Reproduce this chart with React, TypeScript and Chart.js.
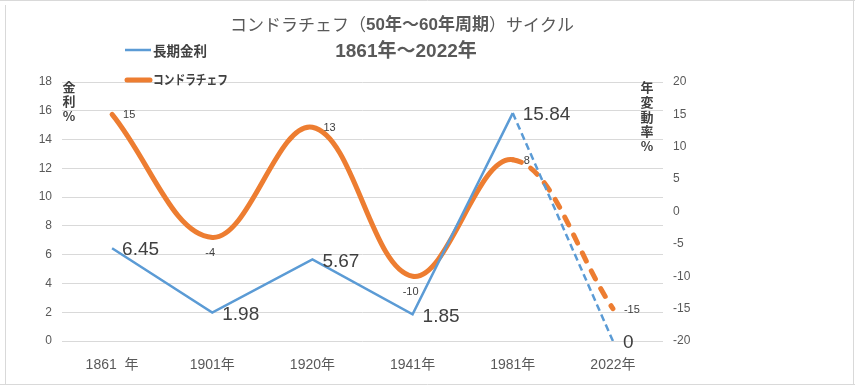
import React, { useEffect, useRef } from 'react';
import { Chart, registerables } from 'chart.js';

Chart.register(...registerables);

// ---- data ----
const categories = ['1861  年', '1901年', '1920年', '1941年', '1981年', '2022年'];
const rateValues = [6.45, 1.98, 5.67, 1.85, 15.84, 0];
const kondratievValues = [15, -4, 13, -10, 8, -15];
const leftAxisRange = [0, 18, 2];
const rightAxisRange = [-20, 20, 5];
const seriesNames = ['長期金利', 'コンドラチェフ'];
const titleLine1 = ['コンドラチェフ（', '50年～60年周期', '）サイクル'];
const titleLine2 = '1861年～2022年';
const leftAxisTitle = ['金', '利', '%'];
const rightAxisTitle = ['年', '変', '動', '率', '%'];

const FONT = "'Liberation Sans', 'Noto Sans CJK JP', sans-serif";
const JP = "'Noto Sans CJK JP', 'Liberation Sans', sans-serif";
const BLUE = '#5B9BD5';
const ORANGE = '#ED7D31';
const TEXT = '#404040';
const TICK = '#595959';

const decorPlugin = {
  id: 'decor',
  afterDatasetsDraw(chart: any) {
    const ctx = chart.ctx;
    ctx.save();
    // data labels for rate series
    const m0 = chart.getDatasetMeta(0);
    ctx.fillStyle = TEXT;
    ctx.font = `19px ${FONT}`;
    ctx.textAlign = 'left';
    ctx.textBaseline = 'middle';
    m0.data.forEach((pt: any, i: number) => {
      ctx.fillText(String(rateValues[i]), pt.x + 10, pt.y + 2);
    });
    // data labels for kondratiev series
    const m1 = chart.getDatasetMeta(1);
    const pos = ['right', 'below', 'right', 'below', 'right', 'right'];
    ctx.font = `11px ${FONT}`;
    m1.data.forEach((pt: any, i: number) => {
      const t = String(kondratievValues[i]);
      if (pos[i] === 'below') {
        ctx.textAlign = 'center';
        ctx.fillText(t, pt.x - 2, pt.y + 16);
      } else {
        ctx.textAlign = 'left';
        ctx.fillText(t, pt.x + 11, pt.y + 1);
      }
    });
    ctx.restore();
  },
  afterDraw(chart: any) {
    const ctx = chart.ctx;
    ctx.save();
    // frame
    ctx.strokeStyle = '#d9d9d9';
    ctx.lineWidth = 1;
    ctx.beginPath();
    ctx.moveTo(0, 0.5); ctx.lineTo(855, 0.5);
    ctx.moveTo(5.5, 5); ctx.lineTo(5.5, 385);
    ctx.moveTo(853.5, 0); ctx.lineTo(853.5, 385);
    ctx.moveTo(0, 384.5); ctx.lineTo(855, 384.5);
    ctx.stroke();

    // title line 1
    ctx.fillStyle = TICK;
    ctx.textBaseline = 'middle';
    ctx.textAlign = 'left';
    const fonts1 = [`17px ${JP}`, `bold 17px ${FONT}`, `17px ${JP}`];
    let total = 0;
    const widths = titleLine1.map((s, i) => {
      ctx.font = fonts1[i];
      const w = ctx.measureText(s).width;
      total += w;
      return w;
    });
    let x = 402 - total / 2;
    titleLine1.forEach((s, i) => {
      ctx.font = fonts1[i];
      ctx.fillText(s, x, 25);
      x += widths[i];
    });
    // title line 2
    ctx.font = `bold 19px ${FONT}`;
    ctx.textAlign = 'center';
    ctx.fillText(titleLine2, 406, 52);

    // legend
    ctx.lineCap = 'butt';
    ctx.strokeStyle = BLUE;
    ctx.lineWidth = 2.5;
    ctx.beginPath(); ctx.moveTo(125, 50); ctx.lineTo(151, 50); ctx.stroke();
    ctx.strokeStyle = ORANGE;
    ctx.lineWidth = 5;
    ctx.lineCap = 'round';
    ctx.beginPath(); ctx.moveTo(127, 80); ctx.lineTo(150, 80); ctx.stroke();
    ctx.fillStyle = TEXT;
    ctx.textAlign = 'left';
    ctx.font = `bold 13.5px ${JP}`;
    ctx.fillText(seriesNames[0], 153, 51, 55);
    ctx.font = `bold 13px ${JP}`;
    ctx.fillText(seriesNames[1], 153, 79, 75);

    // axis titles
    ctx.textAlign = 'center';
    ctx.font = `bold 13px ${JP}`;
    leftAxisTitle.forEach((c, i) => ctx.fillText(c, 69, 87 + i * 14.5));
    rightAxisTitle.forEach((c, i) => ctx.fillText(c, 647, 87 + i * 14.8));
    ctx.restore();
  },
};

export default function App() {
  const ref = useRef<HTMLCanvasElement>(null);
  useEffect(() => {
    if (!ref.current) return;
    const chart = new Chart(ref.current, {
      type: 'line',
      data: {
        labels: categories,
        datasets: [
          {
            label: seriesNames[0],
            data: rateValues,
            yAxisID: 'y',
            borderColor: BLUE,
            backgroundColor: BLUE,
            borderWidth: 2.5,
            tension: 0,
            pointRadius: 0,
            borderCapStyle: 'butt',
            segment: {
              borderDash: (c: any) => (c.p0DataIndex === 4 ? [7, 4] : undefined),
            },
          },
          {
            label: seriesNames[1],
            data: kondratievValues,
            yAxisID: 'y2',
            borderColor: ORANGE,
            backgroundColor: ORANGE,
            borderWidth: 5,
            tension: 0.38,
            pointRadius: 0,
            borderCapStyle: 'round',
            borderJoinStyle: 'round',
            segment: {
              borderDash: (c: any) => (c.p0DataIndex === 4 ? [9, 11] : undefined),
            },
          },
        ],
      },
      options: {
        responsive: false,
        animation: false,
        layout: { padding: { top: 82, left: 0, right: 0, bottom: 0 } },
        plugins: {
          legend: { display: false },
          title: { display: false },
          tooltip: { enabled: false },
        },
        scales: {
          x: {
            type: 'category',
            offset: true,
            grid: { display: false, drawTicks: false },
            border: { display: false },
            ticks: { font: { family: FONT, size: 14 }, color: TICK, padding: 16, maxRotation: 0 },
            afterFit: (s: any) => { s.height = 45; },
          },
          y: {
            position: 'left',
            min: leftAxisRange[0],
            max: leftAxisRange[1],
            ticks: { stepSize: leftAxisRange[2], font: { family: FONT, size: 12 }, color: TICK, padding: 10 },
            grid: { color: '#d9d9d9', drawTicks: false, lineWidth: 1 },
            border: { display: false },
            afterFit: (s: any) => { s.width = 62; },
          },
          y2: {
            position: 'right',
            min: rightAxisRange[0],
            max: rightAxisRange[1],
            ticks: { stepSize: rightAxisRange[2], font: { family: FONT, size: 12 }, color: TICK, padding: 10 },
            grid: { display: false, drawTicks: false },
            border: { display: false },
            afterFit: (s: any) => { s.width = 192; },
          },
        },
      } as any,
      plugins: [decorPlugin],
    });
    return () => chart.destroy();
  }, []);
  return (
    <div style={{ position: 'absolute', left: 0, top: 0, width: 855, height: 386, background: '#fff' }}>
      <canvas ref={ref} width={855} height={386} style={{ width: 855, height: 386, display: 'block' }} />
    </div>
  );
}
